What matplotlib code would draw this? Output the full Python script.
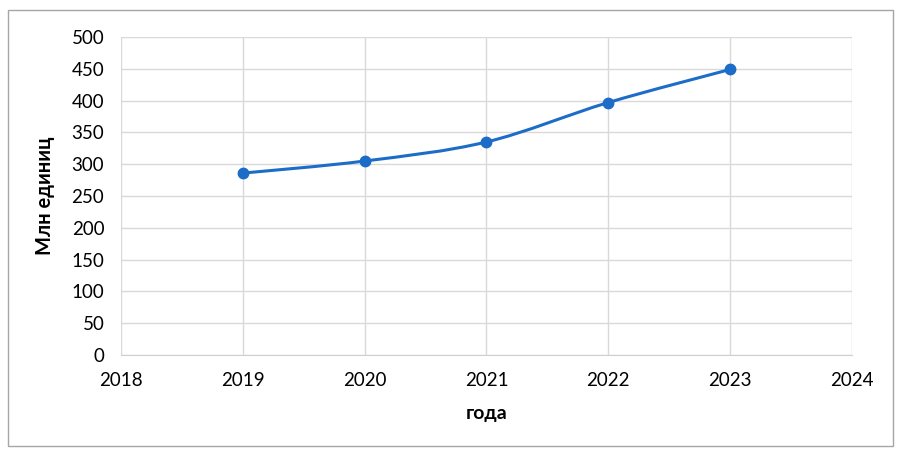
import matplotlib.pyplot as plt
import matplotlib.patches as patches
from matplotlib.path import Path
import numpy as np

plt.rcParams['font.family'] = ['Lato', 'DejaVu Sans']

years = [2019, 2020, 2021, 2022, 2023]
values = [286, 305, 335, 397, 449]
line_color = '#1c6cc8'


def smooth_path(xs, ys, k=1 / 6):
    # Catmull-Rom style bezier like Excel smoothed lines
    xs = np.asarray(xs, float)
    ys = np.asarray(ys, float)
    n = len(xs)
    verts = [(xs[0], ys[0])]
    codes = [Path.MOVETO]
    for i in range(n - 1):
        p0 = i - 1 if i > 0 else i
        p3 = i + 2 if i + 2 < n else i + 1
        c1 = (xs[i] + (xs[i + 1] - xs[p0]) * k, ys[i] + (ys[i + 1] - ys[p0]) * k)
        c2 = (xs[i + 1] - (xs[p3] - xs[i]) * k, ys[i + 1] - (ys[p3] - ys[i]) * k)
        verts += [c1, c2, (xs[i + 1], ys[i + 1])]
        codes += [Path.CURVE4] * 3
    return Path(verts, codes)


fig = plt.figure(figsize=(8.97, 4.58), dpi=100)
ax = fig.add_axes([0.1349, 0.2249, 0.8149, 0.6943])

ax.add_patch(patches.PathPatch(smooth_path(years, values), fill=False,
                               edgecolor=line_color, linewidth=2.2, zorder=3))
ax.plot(years, values, 'o', color=line_color, markersize=7.5, zorder=4)

ax.set_xlim(2018, 2024)
ax.set_ylim(0, 500)
ax.set_xticks(range(2018, 2025))
ax.set_yticks(range(0, 501, 50))
ax.grid(True, color='#d9d9d9', linewidth=1.0)
ax.set_axisbelow(True)
for s in ['top', 'right', 'left']:
    ax.spines[s].set_visible(False)
ax.spines['bottom'].set_color('#d0d0d0')
ax.tick_params(length=0, labelsize=13.5, pad=12)

ax.set_xlabel('года', fontsize=14, fontweight='bold', labelpad=12)
ax.set_ylabel('Млн единиц', fontsize=14.5, fontweight='bold', labelpad=12)

# outer chart border
fig.patches.append(patches.Rectangle((8 / 897, 12 / 458), 885 / 897, 436 / 458,
                                     transform=fig.transFigure, fill=False,
                                     edgecolor='#a6a6a6', linewidth=1.0))

fig.savefig('out.png', dpi=100)
